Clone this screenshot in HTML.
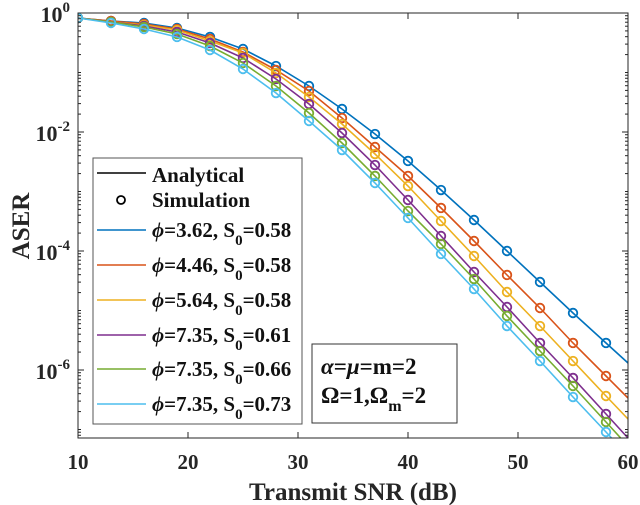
<!DOCTYPE html>
<html><head><meta charset="utf-8"><style>
html,body{margin:0;padding:0;background:#fff;}
svg{display:block;font-family:"Liberation Serif",serif;font-weight:bold;}
</style></head><body>
<svg id="chart" width="640" height="505" viewBox="0 0 640 505">
<rect x="0" y="0" width="640" height="505" fill="#fff"/>
<g id="grid"></g>
<g id="series"></g>
<g id="axes"></g>
<g id="legend">
  <rect x="93" y="158" width="209" height="266" fill="#fff" stroke="#555" stroke-width="1"/>
</g>
<g>
  <rect x="312" y="344" width="145" height="79" fill="#fff" stroke="#333" stroke-width="1"/>
  <text x="321" y="374" font-size="23" fill="#111"><tspan font-style="italic">α</tspan>=<tspan font-style="italic">μ</tspan>=m=2</text>
  <text x="321" y="403" font-size="23" fill="#111">Ω=1,Ω<tspan font-size="16" dy="8">m</tspan><tspan dy="-8">=2</tspan></text>
</g>
<text x="353" y="500" font-size="25" text-anchor="middle" fill="#262626">Transmit SNR (dB)</text>
<text transform="translate(29,226) rotate(-90)" font-size="25" text-anchor="middle" fill="#262626">ASER</text>
</svg>
<script>
const snrMarkers = [10,13,16,19,22,25,28,31,34,37,40,43,46,49,52,55,58];
const snrLineEnd = 60;
const seriesLabels = ["3.62|0.58","4.46|0.58","5.64|0.58","7.35|0.61","7.35|0.66","7.35|0.73"];
const seriesColors = ["#0072BD","#D95319","#EDB120","#7E2F8E","#77AC30","#4DBEEE"];
// -log10(ASER) at snrMarkers, last element is at snrLineEnd
const negLogBlue   = [0.084,0.134,0.168,0.252,0.403,0.605,0.891,1.227,1.613,2.034,2.487,2.975,3.479,4.0,4.521,5.042,5.546,5.882];
const negLogOrange = [0.084,0.134,0.185,0.269,0.437,0.655,0.958,1.311,1.765,2.252,2.739,3.277,3.832,4.403,4.958,5.546,6.101,6.471];
const negLogYellow = [0.084,0.151,0.202,0.286,0.471,0.672,1.008,1.412,1.866,2.370,2.908,3.496,4.084,4.689,5.261,5.849,6.437,6.824];
const negLogPurple = [0.084,0.151,0.218,0.319,0.504,0.756,1.109,1.529,2.017,2.555,3.143,3.748,4.353,4.941,5.546,6.134,6.739,7.143];
const negLogGreen  = [0.084,0.151,0.235,0.353,0.555,0.840,1.227,1.681,2.185,2.739,3.328,3.882,4.471,5.092,5.681,6.269,6.874,7.277];
const negLogCyan   = [0.084,0.168,0.269,0.403,0.622,0.941,1.345,1.815,2.303,2.857,3.445,4.050,4.639,5.261,5.849,6.454,7.042,7.445];
const xTicks = [10,20,30,40,50,60];
const yDecades = [0,-2,-4,-6];

const allSeries = [negLogBlue,negLogOrange,negLogYellow,negLogPurple,negLogGreen,negLogCyan];
const NS="http://www.w3.org/2000/svg";
const L=78,R=628,T=13,B=438, xMin=10,xMax=60, decadePx=59.5;
function xS(v){return L+(v-xMin)/(xMax-xMin)*(R-L);}
function yS(lg){return T-lg*decadePx;}
function mk(tag,attrs,parent){const e=document.createElementNS(NS,tag);for(const k in attrs)e.setAttribute(k,attrs[k]);parent.appendChild(e);return e;}

const series=document.getElementById('series');
const clip=mk('clipPath',{id:'pc'},document.getElementById('chart'));
mk('rect',{x:L,y:T-6,width:R-L,height:B-T+6},clip);
series.setAttribute('clip-path','url(#pc)');
allSeries.forEach((arr,i)=>{
  const xs=snrMarkers.concat([snrLineEnd]);
  const pts=xs.map((s,j)=>xS(s).toFixed(1)+','+yS(-arr[j]).toFixed(1)).join(' ');
  const line=mk('polyline',{points:pts,fill:'none',stroke:seriesColors[i],'stroke-width':1.6},series);
  
  
  snrMarkers.forEach((s,j)=>{
    const c=mk('circle',{cx:xS(s),cy:yS(-arr[j]),r:4.3,fill:'none',stroke:seriesColors[i],'stroke-width':1.8},series);
    
    
  });
});

const axes=document.getElementById('axes');
mk('rect',{x:L,y:T,width:R-L,height:B-T,fill:'none',stroke:'#262626','stroke-width':1},axes);
xTicks.forEach(t=>{
  const x=xS(t);
  mk('line',{x1:x,y1:B,x2:x,y2:B-6,stroke:'#262626'},axes);
  mk('line',{x1:x,y1:T,x2:x,y2:T+6,stroke:'#262626'},axes);
  const tx=mk('text',{x:x,y:469,'font-size':21,'text-anchor':'middle',fill:'#262626'},axes);
  tx.textContent=t;
  
  
});
for(let d=0;d>=-8;d--){
  for(let m=1;m<10;m++){
    const lg=d+Math.log10(m);
    const y=yS(lg);
    if(y<T-0.5||y>B+0.5)continue;
    const len=(m===1&&d%2===0)?6:3;
    mk('line',{x1:L,y1:y,x2:L+len,y2:y,stroke:'#262626'},axes);
    mk('line',{x1:R,y1:y,x2:R-len,y2:y,stroke:'#262626'},axes);
  }
}
yDecades.forEach(d=>{
  const y=yS(d);
  const tx=mk('text',{x:70,y:y+9,'font-size':22,'text-anchor':'end',fill:'#262626'},axes);
  
  
  const b=mk('tspan',{},tx);b.textContent='10';
  const e=mk('tspan',{dy:-10,'font-size':15},tx);e.textContent=String(d);
});

const lg=document.getElementById('legend');
function legText(y,parts){
  const t=mk('text',{x:152,y:y+7,'font-size':21,fill:'#111'},lg);
  
  
  parts.forEach(p=>{const s=mk('tspan',p.a||{},t);s.textContent=p.t;});
}
mk('line',{x1:97,y1:173,x2:146,y2:173,stroke:'#000','stroke-width':1.6},lg);
legText(175,[{t:'Analytical'}]);
mk('circle',{cx:121,cy:200,r:4,fill:'none',stroke:'#000','stroke-width':1.8},lg);
legText(200,[{t:'Simulation'}]);
const legY=[230,265,300,335,369,404];
seriesLabels.forEach((lab,i)=>{
  const [phi,s0]=lab.split('|');
  mk('line',{x1:97,y1:legY[i],x2:146,y2:legY[i],stroke:seriesColors[i],'stroke-width':1.6},lg);
  legText(legY[i],[{t:'ϕ',a:{'font-style':'italic'}},{t:'='+phi+', S'},{t:'0',a:{dy:8,'font-size':15}},{t:'='+s0,a:{dy:-8}}]);
});
</script>
</body></html>
